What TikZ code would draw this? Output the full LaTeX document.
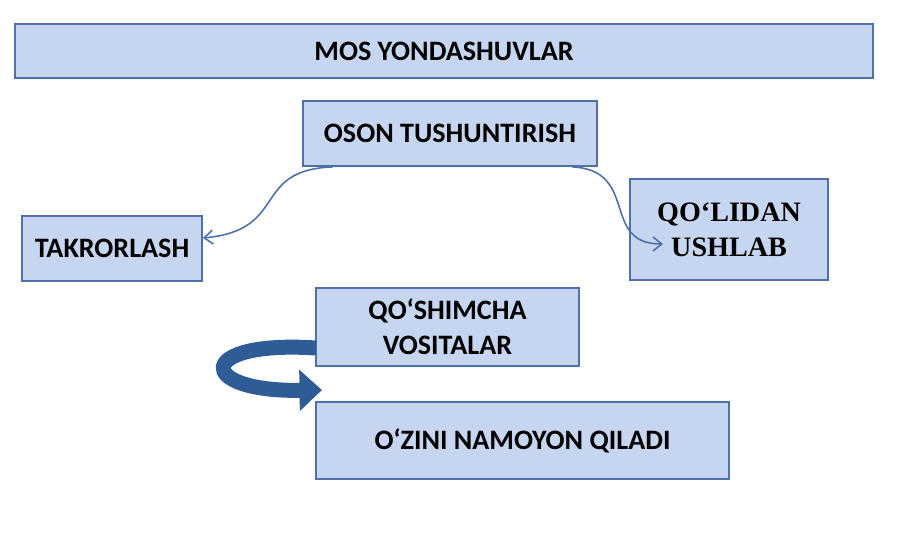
\documentclass[tikz,border=0pt]{standalone}
\usepackage{fontspec}
\setmainfont{Carlito}
\newfontfamily\serifbox{Liberation Serif}
\usetikzlibrary{arrows.meta}
\definecolor{boxfill}{HTML}{C6D6F0}
\definecolor{boxline}{HTML}{4F70A8}
\definecolor{bandblue}{HTML}{2F5C96}
\tikzset{
  card/.style={draw=boxline,fill=boxfill,line width=1pt,align=center,
    font=\fontsize{16pt}{20pt}\selectfont\bfseries,inner sep=0pt},
  link/.style={draw=boxline,line width=0.9pt,-{Straight Barb[length=5pt,width=8pt]}}
}
\begin{document}
\begin{tikzpicture}[x=0.02cm,y=-0.02cm]
\useasboundingbox [fill=white] (0,0) rectangle (908,540);

\node (mos) [card,minimum width=858*0.02cm,minimum height=54*0.02cm] at (444,51) {MOS YONDASHUVLAR};
\node (oson) [card,minimum width=294*0.02cm,minimum height=65*0.02cm] at (450,133.5) {OSON TUSHUNTIRISH};
\node (takror) [card,minimum width=180*0.02cm,minimum height=65*0.02cm] at (112,248.5) {TAKRORLASH};
\node (qolidan) [card,minimum width=198*0.02cm,minimum height=101*0.02cm,font=\fontsize{16pt}{20pt}\selectfont\bfseries\serifbox] at (729,229.5) {QO‘LIDAN\\USHLAB};
\node (qoshim) [card,minimum width=263*0.02cm,minimum height=78*0.02cm] at (447.5,327) {QO‘SHIMCHA\\VOSITALAR};
\node (ozini) [card,minimum width=413*0.02cm,minimum height=77*0.02cm] at (522.5,440.5) {O‘ZINI NAMOYON QILADI};

% connectors from the middle box
\coordinate (qtip) at (663,244);
\draw [link] ([xshift=-117*0.02cm]oson.south) .. controls (250,170) and (290,230) .. (takror.east |- 0,238);
\draw [link] ([xshift=122*0.02cm]oson.south) .. controls (640,170) and (600,244) .. (qtip);

% curved band arrow
\coordinate (bstart) at (316,348);
\coordinate (bend) at (322,390);
\draw [bandblue,line width=0.3cm,-{Triangle[length=0.45cm,width=0.8cm]}]
  (bstart) .. controls (195,340) and (195,392) .. (bend);
\end{tikzpicture}
\end{document}
